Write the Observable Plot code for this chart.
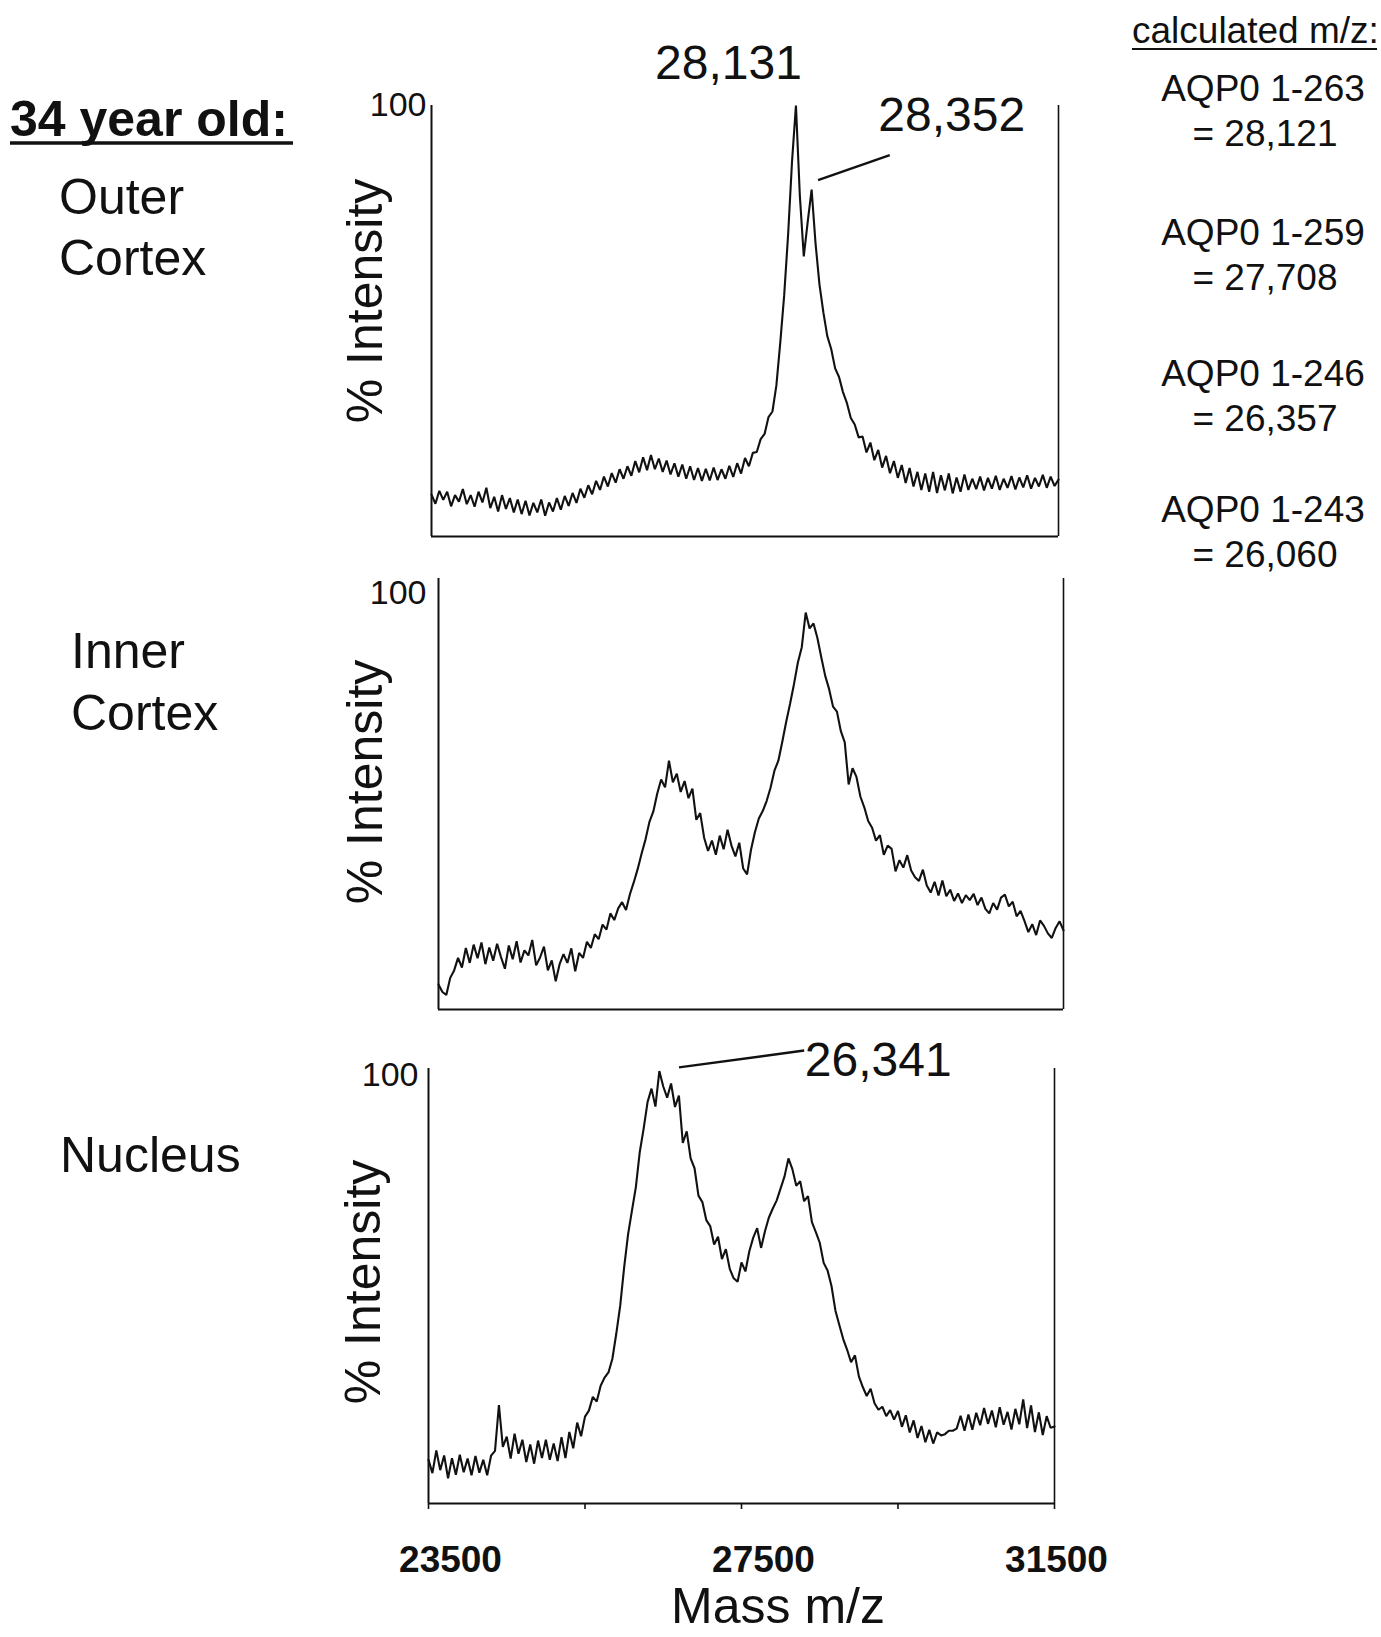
<!DOCTYPE html>
<html><head><meta charset="utf-8">
<script src="https://cdn.jsdelivr.net/npm/d3@7"></script>
<script src="https://cdn.jsdelivr.net/npm/@observablehq/plot@0.6"></script>
<style>
html,body{margin:0;padding:0;background:#fff;}
#page{position:relative;width:1381px;height:1637px;background:#fff;overflow:hidden;}
#page svg{position:absolute;left:0;top:0;}
</style></head><body><div id="page"></div>
<script>
// ---------- DATA ----------
const mass = [
23500,23550,23600,23650,23700,23750,23800,23850,23900,23950,
24000,24050,24100,24150,24200,24250,24300,24350,24400,24450,
24500,24550,24600,24650,24700,24750,24800,24850,24900,24950,
25000,25050,25100,25150,25200,25250,25300,25350,25400,25450,
25500,25550,25600,25650,25700,25750,25800,25850,25900,25950,
26000,26050,26100,26150,26200,26250,26300,26350,26400,26450,
26500,26550,26600,26650,26700,26750,26800,26850,26900,26950,
27000,27050,27100,27150,27200,27250,27300,27350,27400,27450,
27500,27550,27600,27650,27700,27750,27800,27850,27900,27950,
28000,28050,28100,28150,28200,28250,28300,28350,28400,28450,
28500,28550,28600,28650,28700,28750,28800,28850,28900,28950,
29000,29050,29100,29150,29200,29250,29300,29350,29400,29450,
29500,29550,29600,29650,29700,29750,29800,29850,29900,29950,
30000,30050,30100,30150,30200,30250,30300,30350,30400,30450,
30500,30550,30600,30650,30700,30750,30800,30850,30900,30950,
31000,31050,31100,31150,31200,31250,31300,31350,31400,31450,
31500];

const outerIntensity = [
9.7,7.6,10.6,8.5,10.4,7.0,9.6,8.1,11.0,7.5,
9.6,6.9,10.4,7.9,11.3,6.6,9.2,5.8,9.6,6.4,
8.9,5.6,8.6,5.2,8.3,4.9,7.8,5.6,8.6,4.8,
7.9,5.8,8.9,6.2,9.4,7.1,10.1,7.8,11.1,9.0,
11.9,9.8,12.9,10.8,13.9,11.6,14.7,12.5,15.6,13.4,
16.3,14.1,17.5,14.9,18.4,15.4,18.9,15.6,18.1,15.0,
17.6,14.4,17.0,13.9,16.7,13.4,16.3,13.1,15.9,12.9,
15.7,13.0,16.0,13.1,15.6,13.4,16.4,13.8,17.0,14.6,
18.2,16.3,19.4,19.6,22.6,23.8,27.7,29.0,35.0,45.0,
56.0,70.0,87.0,100,79.0,65.0,73.0,80.5,68.0,58.5,
52.0,46.5,43.5,39.0,37.0,33.5,31.0,27.5,26.0,23.0,
23.2,19.5,21.8,17.7,20.1,16.0,18.7,14.7,17.5,13.6,
16.6,12.4,15.9,11.6,15.0,10.8,14.6,10.4,15.0,10.1,
14.2,10.7,14.6,10.0,13.7,10.4,14.4,10.8,13.4,11.0,
13.9,10.7,13.6,11.1,14.1,10.8,13.4,11.3,14.0,10.9,
13.7,11.4,14.2,11.1,13.6,11.6,14.3,11.3,13.9,11.7,
13.2];

const innerIntensity = [
6.0,4.2,3.5,7.6,9.4,12.4,10.1,14.8,11.2,15.6,
12.3,16.1,10.9,14.9,11.7,15.8,12.6,9.8,15.4,12.1,
16.4,11.3,14.2,13.0,16.7,10.6,12.5,15.1,9.4,11.8,
6.8,10.9,13.3,11.2,14.7,9.2,13.6,12.4,16.3,14.8,
18.1,16.9,20.4,19.2,23.1,21.5,24.3,25.8,23.9,27.7,
30.6,33.8,37.5,40.9,45.1,47.6,51.9,55.3,53.4,59.8,
54.6,56.7,52.3,54.9,50.8,53.1,45.6,47.2,41.3,38.1,
40.6,37.2,41.8,38.5,43.2,39.4,36.8,40.1,33.9,32.5,
38.4,42.6,45.9,47.7,50.1,53.3,57.4,59.8,64.3,69.1,
73.5,78.2,83.4,87.1,95.4,91.6,92.8,89.3,84.6,80.2,
77.0,72.8,71.6,66.9,64.2,54.1,58.0,55.9,51.2,48.6,
45.3,43.7,40.6,41.9,37.2,39.4,38.6,33.2,35.9,34.1,
37.1,33.4,31.8,30.9,33.6,29.8,28.1,30.7,27.4,31.0,
27.2,28.8,26.1,27.9,25.6,27.5,26.3,27.8,25.1,26.9,
24.2,23.1,25.6,24.0,26.9,27.6,24.8,25.9,22.4,23.7,
21.3,18.6,20.5,17.9,21.4,20.1,18.3,17.2,19.6,21.2,
19.0];

const nucleusIntensity = [
10.2,7.1,12.4,7.8,11.2,5.9,10.6,6.7,11.4,7.3,
10.5,6.6,11.1,7.2,10.2,6.6,11.2,12.3,23.0,13.2,
15.6,10.5,16.3,11.6,14.9,9.7,13.8,9.3,14.7,10.6,
14.9,10.2,14.0,9.9,15.5,10.6,16.7,12.9,18.9,15.7,
20.3,21.7,24.9,23.8,27.5,29.4,30.6,33.8,39.7,46.2,
55.1,62.8,68.4,73.9,82.1,87.6,93.8,96.9,92.7,101.0,
97.4,94.8,98.1,92.6,95.3,84.2,86.9,80.6,78.3,71.9,
70.4,66.2,64.8,60.5,62.3,57.1,59.4,54.8,52.6,51.8,
56.3,54.2,58.9,62.1,64.3,59.7,63.6,66.8,68.9,70.8,
73.6,76.4,80.6,78.1,74.2,75.3,70.6,71.8,65.7,63.4,
60.9,56.2,54.4,50.8,45.1,41.7,38.4,35.9,33.0,34.6,
29.7,27.2,25.1,26.8,23.4,21.9,22.6,20.4,21.8,19.6,
21.6,17.9,20.6,16.6,19.4,15.3,18.1,14.3,17.2,14.0,
16.6,15.9,16.2,17.0,17.0,17.5,20.5,17.0,20.8,17.2,
21.2,18.3,22.3,18.6,21.7,17.8,22.5,18.4,21.4,17.3,
22.1,18.5,24.3,17.6,22.9,16.7,21.3,16.0,20.4,17.7,
18.0];

const xTicks = [23500, 25500, 27500, 29500, 31500];
const xTickLabelsInner = [23500, 27500];
const xTickLabelsEnd = [31500];
const yTick = [100];

const outerPeakLabels = ["28,131", "28,352"];
const outerPeakMass = [28131, 28352];
const outerPeakIntensity = [100, 80.5];
const nucleusPeakLabels = ["26,341"];
const nucleusPeakMass = [26341];
const nucleusPeakIntensity = [100];

const ageTitle = "34 year old:";
const regionNames = [["Outer", "Cortex"], ["Inner", "Cortex"], ["Nucleus"]];
const calcTitle = "calculated m/z:";
const calcNames = ["AQP0 1-263", "AQP0 1-259", "AQP0 1-246", "AQP0 1-243"];
const calcValues = ["= 28,121", "= 27,708", "= 26,357", "= 26,060"];
const yLabel = "% Intensity";
const xLabel = "Mass m/z";

// ---------- LAYOUT ----------
const W = 1381, H = 1637;
const FONT = "'Liberation Sans', Arial, Helvetica, sans-serif";
const INK = "#111";
const page = document.getElementById("page");

function table(values) {
  return mass.map((m, i) => ({mass: m, intensity: values[i]})).filter(d => d.intensity != null);
}
function peaks(labels, ms, ints) {
  return labels.map((l, i) => ({label: l, mass: ms[i], intensity: ints[i]}));
}

const panels = [
  {values: outerIntensity, left: 431, right: 1058, top: 105, bottom: 536, yMax: 100, tickPad: 5,
   ylab: {dx: -66, dy: -20}},
  {values: innerIntensity, left: 438, right: 1063, top: 578, bottom: 1009, yMax: 103.6, tickPad: 12,
   ylab: {dx: -73, dy: -12}},
  {values: nucleusIntensity, left: 428, right: 1054, top: 1068, bottom: 1503, yMax: 101.6, tickPad: 10,
   ylab: {dx: -65, dy: -4}, xAxis: true}
];

panels.forEach((p, k) => {
  const marks = [
    Plot.ruleX([23500], {stroke: INK, strokeWidth: 2}),
    Plot.ruleX([31500], {stroke: INK, strokeWidth: 1.6}),
    Plot.ruleY([0], {stroke: INK, strokeWidth: 2}),
    Plot.axisY({ticks: yTick, tickSize: 0, tickPadding: p.tickPad, fontSize: 34, label: null,
                tickFormat: d => String(d), fill: INK}),
    Plot.line(table(p.values), {x: "mass", y: "intensity", stroke: INK, strokeWidth: 2.1, strokeLinejoin: "miter"}),
    Plot.text([yLabel], {frameAnchor: "left", text: d => d, rotate: -90, fontSize: 50, fill: INK,
                         textAnchor: "middle", lineAnchor: "middle", dx: p.ylab.dx, dy: p.ylab.dy})
  ];
  if (k === 0) {
    const pk = peaks(outerPeakLabels, outerPeakMass, outerPeakIntensity);
    marks.push(
      Plot.text([pk[0]], {x: "mass", y: "intensity", text: "label", fontSize: 48, fill: INK, dx: -66, dy: -42}),
      Plot.text([pk[1]], {x: "mass", y: "intensity", text: "label", fontSize: 48, fill: INK, dx: 140, dy: -74}),
      Plot.link([pk[1]], {x1: d => d.mass + 80, y1: d => d.intensity + 2.2,
                          x2: d => d.mass + 995, y2: d => d.intensity + 8.0, stroke: INK, strokeWidth: 2.4})
    );
  }
  if (k === 2) {
    const pk = peaks(nucleusPeakLabels, nucleusPeakMass, nucleusPeakIntensity);
    marks.push(
      Plot.text(pk, {x: "mass", y: "intensity", text: "label", fontSize: 48, fill: INK, textAnchor: "start", dx: 154, dy: -15}),
      Plot.link(pk, {x1: d => d.mass + 360, y1: d => d.intensity + 1.85,
                     x2: d => d.mass + 1960, y2: d => d.intensity + 5.8, stroke: INK, strokeWidth: 2.4})
    );
  }
  if (p.xAxis) {
    marks.push(
      Plot.axisX({ticks: xTicks, tickSize: 6, tickFormat: () => "", label: null, stroke: INK, strokeWidth: 1.6}),
      Plot.axisX({ticks: xTickLabelsInner, tickSize: 0, tickPadding: 42, fontSize: 37, fontWeight: "bold",
                  label: null, tickFormat: d => String(d), dx: 22, fill: INK}),
      Plot.axisX({ticks: xTickLabelsEnd, tickSize: 0, tickPadding: 42, fontSize: 37, fontWeight: "bold",
                  label: null, tickFormat: d => String(d), dx: 2, fill: INK})
    );
  }
  const svg = Plot.plot({
    width: W, height: H,
    marginLeft: p.left, marginRight: W - p.right, marginTop: p.top, marginBottom: H - p.bottom,
    x: {domain: [23500, 31500], ...(p.xAxis ? {} : {axis: null})},
    y: {domain: [0, p.yMax]},
    style: {background: "transparent", overflow: "visible", fontFamily: FONT, color: INK},
    marks
  });
  page.appendChild(svg);
});

// ---------- STATIC LABELS ----------
const ov = d3.select(page).append("svg").attr("width", W).attr("height", H)
  .style("font-family", FONT).attr("fill", INK);

ov.append("text").attr("x", 10).attr("y", 136).attr("font-size", 50).attr("font-weight", "bold")
  .text(ageTitle);
ov.append("line").attr("x1", 10).attr("x2", 293).attr("y1", 143).attr("y2", 143)
  .attr("stroke", INK).attr("stroke-width", 3.5);

const regionPos = [{x: 59, y: [214, 275]}, {x: 71, y: [668, 730]}, {x: 60, y: [1172]}];
regionNames.forEach((lines, i) => {
  lines.forEach((t, j) => {
    ov.append("text").attr("x", regionPos[i].x).attr("y", regionPos[i].y[j])
      .attr("font-size", 50).text(t);
  });
});

ov.append("text").attr("x", 1132).attr("y", 43).attr("font-size", 37).text(calcTitle);
ov.append("line").attr("x1", 1132).attr("x2", 1377).attr("y1", 49).attr("y2", 49)
  .attr("stroke", INK).attr("stroke-width", 2);
const calcY = [[101, 146], [245, 290], [386, 431], [522, 567]];
calcNames.forEach((n, i) => {
  ov.append("text").attr("x", 1263).attr("y", calcY[i][0]).attr("text-anchor", "middle")
    .attr("font-size", 37).text(n);
  ov.append("text").attr("x", 1265).attr("y", calcY[i][1]).attr("text-anchor", "middle")
    .attr("font-size", 37).text(calcValues[i]);
});

ov.append("text").attr("x", 778).attr("y", 1623).attr("text-anchor", "middle")
  .attr("font-size", 50).text(xLabel);
</script>
</body></html>
